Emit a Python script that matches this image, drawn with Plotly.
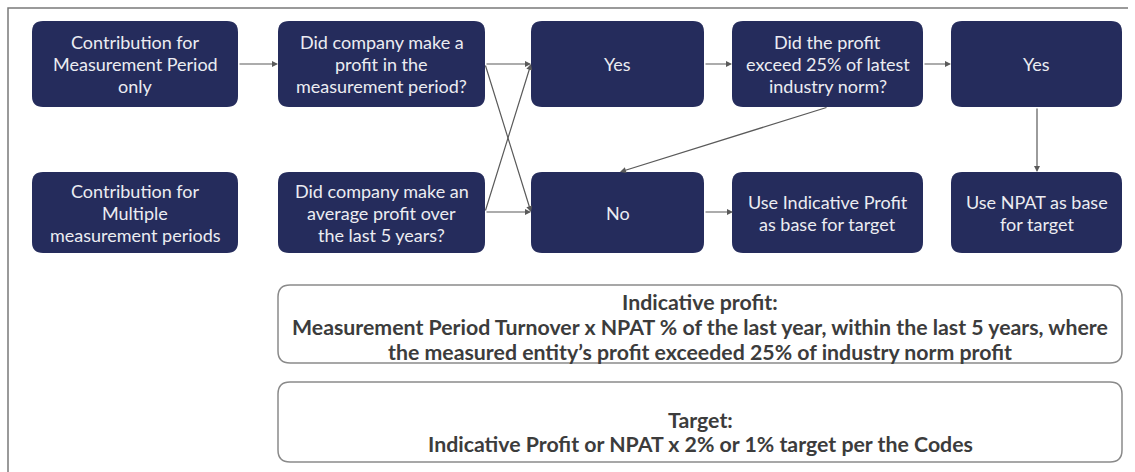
import plotly.graph_objects as go

# ---- data: node labels and connections ----
node_ids = ["c1", "q1", "yes1", "q2", "yes2", "c2", "q3", "no", "ip", "npat"]
node_labels = [
    ["Contribution for", "Measurement Period", "only"],
    ["Did company make a", "profit in the", "measurement period?"],
    ["Yes"],
    ["Did the profit", "exceed 25% of latest", "industry norm?"],
    ["Yes"],
    ["Contribution for", "Multiple", "measurement periods"],
    ["Did company make an", "average profit over", "the last 5 years?"],
    ["No"],
    ["Use Indicative Profit", "as base for target"],
    ["Use NPAT as base", "for target"],
]
edges = [
    ("c1", "q1"), ("q1", "yes1"), ("q1", "no"), ("q3", "yes1"), ("q3", "no"),
    ("yes1", "q2"), ("q2", "yes2"), ("q2", "no"), ("yes2", "npat"), ("no", "ip"),
]
info_texts = [
    ["Indicative profit:",
     "Measurement Period Turnover x NPAT % of the last year, within the last 5 years, where",
     "the measured entity\u2019s profit exceeded 25% of industry norm profit"],
    ["Target:",
     "Indicative Profit or NPAT x 2% or 1% target per the Codes"],
]

# ---- layout (pixel geometry) ----
W, H = 1135, 472
cols = [(32, 238), (278, 485), (531, 704), (732, 923), (951, 1122)]
rows = [(21, 107), (172, 253)]
grid = {
    "c1": (0, 0), "q1": (1, 0), "yes1": (2, 0), "q2": (3, 0), "yes2": (4, 0),
    "c2": (0, 1), "q3": (1, 1), "no": (2, 1), "ip": (3, 1), "npat": (4, 1),
}
anchors = {
    ("c1", "q1"): ((238, 64), (278, 64)),
    ("q1", "yes1"): ((485, 64), (531, 64)),
    ("q1", "no"): ((485, 64), (531, 212)),
    ("q3", "yes1"): ((485, 212), (531, 64)),
    ("q3", "no"): ((485, 212), (531, 212)),
    ("yes1", "q2"): ((704, 64), (732, 64)),
    ("q2", "yes2"): ((923, 64), (951, 64)),
    ("q2", "no"): ((828, 107), (620, 172)),
    ("yes2", "npat"): ((1037, 107), (1037, 172)),
    ("no", "ip"): ((704, 212), (733, 212)),
}
info_boxes = [(278, 1122, 285, 363), (278, 1122, 382, 462)]
info_line_y = [[302, 327, 352], [420, 444]]
BOX_LINE = 22

NAVY = "#252c5c"
ARROW = "#5a5a5a"
FONT = "Lato"


def rrect(x0, x1, y0, y1, r):
    return (f"M {x0+r},{y0} L {x1-r},{y0} Q {x1},{y0} {x1},{y0+r} "
            f"L {x1},{y1-r} Q {x1},{y1} {x1-r},{y1} L {x0+r},{y1} "
            f"Q {x0},{y1} {x0},{y1-r} L {x0},{y0+r} Q {x0},{y0} {x0+r},{y0} Z")


fig = go.Figure()
fig.add_trace(go.Scatter(x=[0, W], y=[0, H], mode="markers",
                         marker=dict(opacity=0), hoverinfo="skip", showlegend=False))

shapes = []
annotations = []

shapes.append(dict(type="path", path=f"M 8,{H} L 8,8 L 1128,8",
                   line=dict(color="#7a7a7a", width=1.5), xref="x", yref="y"))

for nid, lines in zip(node_ids, node_labels):
    ci, ri = grid[nid]
    x0, x1 = cols[ci]
    y0, y1 = rows[ri]
    shapes.append(dict(type="path", path=rrect(x0, x1, y0, y1, 11),
                       fillcolor=NAVY, line=dict(width=0), xref="x", yref="y", layer="below"))
    cy = (y0 + y1) / 2
    n = len(lines)
    for i, ln in enumerate(lines):
        annotations.append(dict(x=(x0 + x1) / 2, y=cy + (i - (n - 1) / 2) * BOX_LINE,
                                xref="x", yref="y", text=ln, showarrow=False,
                                font=dict(family=FONT, size=18, color="#ececf2")))

for e in edges:
    (sx, sy), (ex, ey) = anchors[e]
    annotations.append(dict(x=ex, y=ey, ax=sx, ay=sy, xref="x", yref="y",
                            axref="x", ayref="y", text="", showarrow=True,
                            arrowhead=2, arrowsize=1.0, arrowwidth=1.2,
                            arrowcolor=ARROW, standoff=0, startstandoff=0))

for (x0, x1, y0, y1), lines, ys in zip(info_boxes, info_texts, info_line_y):
    shapes.append(dict(type="path", path=rrect(x0, x1, y0, y1, 12),
                       fillcolor="white", line=dict(color="#8a8a8a", width=1.5),
                       xref="x", yref="y", layer="below"))
    for ln, yy in zip(lines, ys):
        annotations.append(dict(x=(x0 + x1) / 2, y=yy, xref="x", yref="y",
                                text=f"<b>{ln}</b>", showarrow=False,
                                font=dict(family=FONT, size=21.3, color="#3c3c3c")))

fig.update_layout(
    width=W, height=H,
    margin=dict(l=0, r=0, t=0, b=0),
    paper_bgcolor="white", plot_bgcolor="white",
    xaxis=dict(range=[0, W], visible=False, fixedrange=True),
    yaxis=dict(range=[H, 0], visible=False, fixedrange=True),
    shapes=shapes, annotations=annotations,
    showlegend=False,
)
fig.write_html("out.html", config={"displayModeBar": False},
               post_script="document.body.style.margin='0';document.body.style.overflow='hidden';")
